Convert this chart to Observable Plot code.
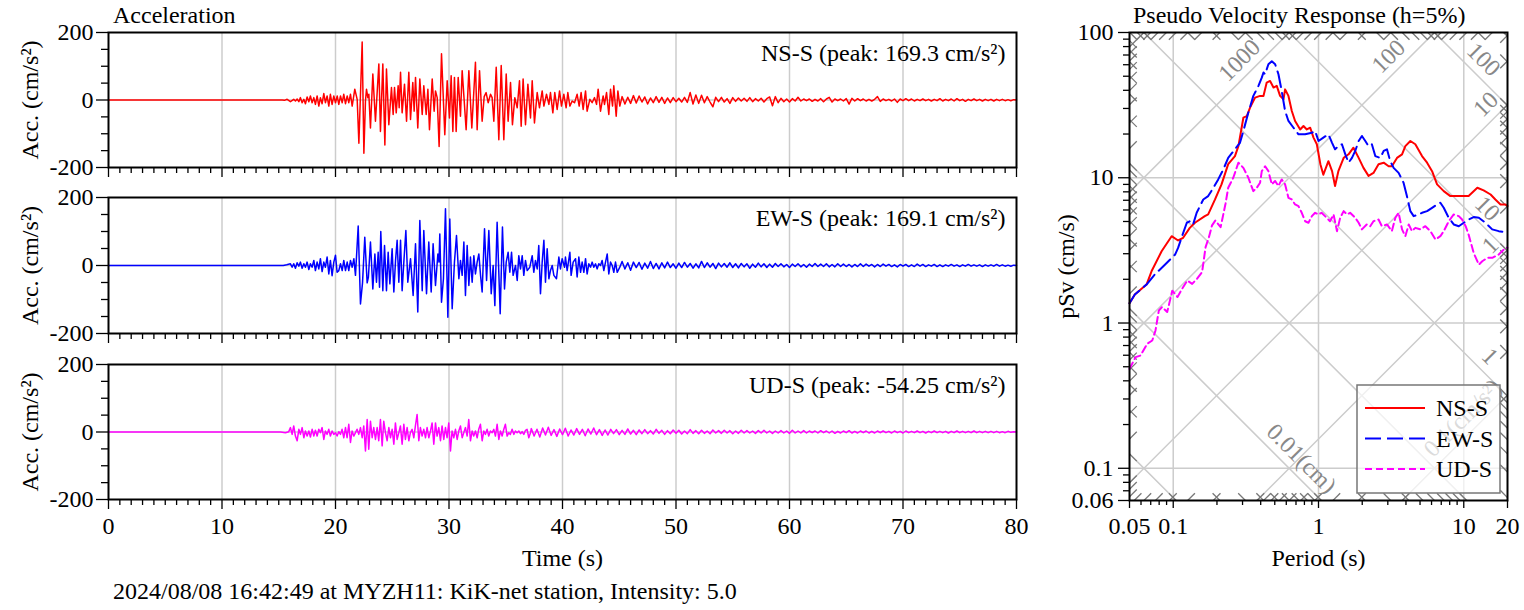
<!DOCTYPE html>
<html><head><meta charset="utf-8">
<script src="https://cdn.jsdelivr.net/npm/d3@7"></script>
<script src="https://cdn.jsdelivr.net/npm/@observablehq/plot@0.6"></script>
<style>
body{margin:0;background:#fff;}
#chart{position:relative;width:1524px;height:610px;background:#fff;}
#chart svg{position:absolute;}
</style></head><body><div id="chart"></div>
<script>
// ---------------- DATA ----------------
const accTitle = "Acceleration";
const specTitle = "Pseudo Velocity Response (h=5%)";
const caption = "2024/08/08 16:42:49 at MYZH11: KiK-net station, Intensity: 5.0";
const seriesNames = ["NS-S", "EW-S", "UD-S"];
const peakLabels = ["NS-S (peak: 169.3 cm/s²)", "EW-S (peak: 169.1 cm/s²)", "UD-S (peak: -54.25 cm/s²)"];
const timeTicks = [0, 10, 20, 30, 40, 50, 60, 70, 80];
const timeGrid = [10, 20, 30, 40, 50, 60, 70];
const timeMinor = [1,2,3,4,5,6,7,8,9,11,12,13,14,15,16,17,18,19,21,22,23,24,25,26,27,28,29,31,32,33,34,35,36,37,38,39,41,42,43,44,45,46,47,48,49,51,52,53,54,55,56,57,58,59,61,62,63,64,65,66,67,68,69,71,72,73,74,75,76,77,78,79];
const accTicks = [-200, 0, 200];
const accMinor = [-150, -100, -50, 50, 100, 150];
const periodLabelTicks = [0.05, 0.1, 1, 10, 20];
const periodMinorTicks = [0.06,0.07,0.08,0.09,0.2,0.3,0.4,0.5,0.6,0.7,0.8,0.9,2,3,4,5,6,7,8,9];
const periodGrid = [0.1, 1, 10];
const svLabelTicks = [0.06, 0.1, 1, 10, 100];
const svMinorTicks = [0.07,0.08,0.09,0.2,0.3,0.4,0.5,0.6,0.7,0.8,0.9,2,3,4,5,6,7,8,9,20,30,40,50,60,70,80,90];
const svGrid = [0.1, 1, 10];
const dispLevels = [0.001, 0.01, 0.1, 1, 10, 100, 1000];      // cm
const accLevels = [0.1, 1, 10, 100, 1000, 10000];              // cm/s²
const minorMult = [1,2,3,4,5,6,7,8,9];
const accLabelText = ["1000", "100", "10", "1", "0.1(cm/s²)"];
const accLabelValue = [1000, 100, 10, 1, 0.1];
const accLabelPeriod = [0.34, 3.61, 16.9, 18.1, 11.7];
const dispLabelText = ["100", "10", "1", "0.01(cm)"];
const dispLabelValue = [100, 10, 1, 0.01];
const dispLabelPeriod = [11.5, 12.2, 12.7, 0.642];

// acceleration time histories [time s, acc cm/s²]
const nsMain = [[0,0],[15.3,0],[15.5,-1],[15.74,2],[16.03,-5],[16.32,2],[16.47,-3],[16.62,3],[16.77,-5],[16.91,7],[17.06,-8],[17.21,2],[17.35,-11],[17.5,9],[17.65,-5],[17.79,12],[17.94,-8],[18.09,7],[18.23,-13],[18.38,12],[18.53,-18],[18.67,7],[18.82,-11],[18.97,19],[19.11,-8],[19.26,12],[19.41,-18],[19.55,17],[19.7,-13],[19.85,12],[20.0,-8],[20.15,12],[20.29,-13],[20.44,12],[20.59,-8],[20.73,17],[20.88,-11],[21.03,12],[21.17,-8],[21.32,17],[21.47,-18],[21.7,32],[21.91,2],[22.06,-128],[22.35,172],[22.5,-158],[22.64,-3],[22.73,32],[22.85,7],[22.94,17],[23.08,-83],[23.29,77],[23.52,-63],[23.82,107],[23.96,-93],[24.17,107],[24.35,-133],[24.49,92],[24.7,-73],[24.93,37],[25.08,-43],[25.2,37],[25.35,-38],[25.52,42],[25.61,-23],[25.73,82],[25.87,-38],[26.08,47],[26.26,-63],[26.46,82],[26.61,-58],[26.81,52],[26.93,-33],[27.05,67],[27.25,-83],[27.43,62],[27.64,-43],[27.78,42],[27.99,-43],[28.14,32],[28.28,-88],[28.52,62],[28.69,-33],[28.81,27],[28.96,7],[29.13,-138],[29.34,137],[29.63,-103],[29.84,57],[30.04,-53],[30.19,72],[30.34,-93],[30.48,67],[30.63,-93],[30.81,67],[31.01,-48],[31.16,87],[31.51,-88],[31.75,87],[32.01,-83],[32.33,112],[32.48,-88],[32.69,87],[32.92,-63],[33.1,10],[33.27,22],[33.45,-8],[33.66,17],[33.8,7],[33.95,-63],[34.16,97],[34.39,-118],[34.6,102],[34.83,-118],[35.04,77],[35.21,-63],[35.42,52],[35.59,-73],[35.8,7],[36.01,-23],[36.21,57],[36.36,-78],[36.53,62],[36.74,-73],[36.95,47],[37.18,-53],[37.33,57],[37.53,-68],[37.77,22],[37.97,-23],[38.21,27],[38.36,-18],[38.59,17],[38.8,-13],[38.94,22],[39.15,-38],[39.32,22],[39.53,-28],[39.74,27],[39.91,-18],[40.12,17],[40.32,-23],[40.47,22],[40.65,-18],[40.85,-3],[41.06,-8],[41.29,17],[41.47,-18],[41.64,22],[41.82,-28],[42.03,27],[42.17,-33],[42.41,2],[42.61,-8],[42.82,7],[43.0,-13],[43.14,32],[43.35,-33],[43.58,12],[43.7,-13],[43.88,22],[44.08,-43],[44.23,32],[44.41,-18],[44.52,42],[44.73,-48],[44.88,27],[45.05,-18]];
const nsTailStart = 45.25, tailStep = 0.25;
const nsTail = [10,-12,8,-10,13,-9,12,-6,9,-12,6,-8,10,-7,8,-10,6,-8,7,-5,
 5,-6,8,-7,22,-12,15,-10,14,-8,10,-6,-20,8,-5,8,-6,4,-10,7,
 -4,6,-3,5,-4,7,-5,4,-3,5,-6,4,9,-17,10,-8,5,-5,3,-6,
 4,-3,8,-3,3,-2,3,-4,2,-3,4,-5,3,8,-6,3,-2,3,-3,4,
 -12,5,-3,4,-2,3,-3,2,-3,2,10,-4,3,-2,2,-3,3,-7,3,-2,
 4,-2,3,-3,2,-2,3,-2,2,-3,2,-2,4,-3,2,-2,3,-3,4,-2,
 2,-4,2,-2,3,-2,2,-3,2,-2,2,-3,2,-2,2,-2,1,-2,1,0];

const ewMain = [[0,0],[15.4,0],[15.7,2],[16.03,5],[16.18,-5],[16.32,5],[16.47,-8],[16.62,8],[16.77,-2],[16.91,10],[17.06,-8],[17.21,5],[17.35,-5],[17.5,10],[17.65,-12],[17.79,5],[17.94,-5],[18.09,15],[18.23,-15],[18.38,10],[18.53,-10],[18.67,20],[18.82,-18],[18.97,10],[19.11,-5],[19.26,25],[19.41,-25],[19.55,15],[19.7,-30],[19.85,10],[20.0,30],[20.14,-20],[20.29,-15],[20.44,5],[20.59,-15],[20.73,15],[20.88,-15],[21.03,10],[21.17,-15],[21.32,15],[21.47,-5],[21.62,20],[21.76,-29],[22.0,116],[22.2,-113],[22.38,-51],[22.58,83],[22.79,-51],[22.9,-34],[23.08,69],[23.29,-69],[23.47,34],[23.61,-49],[23.76,39],[23.88,-64],[23.99,100],[24.17,-74],[24.32,59],[24.49,-74],[24.64,39],[24.79,-54],[24.99,49],[25.14,-78],[25.29,15],[25.43,74],[25.58,-49],[25.73,74],[25.87,-74],[26.02,10],[26.2,103],[26.37,-49],[26.61,20],[26.84,-88],[27.05,64],[27.25,-137],[27.43,132],[27.64,-74],[27.78,103],[28.02,-83],[28.22,69],[28.43,-78],[28.6,64],[28.81,-59],[29.02,34],[29.12,10],[29.19,93],[29.34,-108],[29.51,-39],[29.69,167],[29.9,-152],[30.07,137],[30.28,-127],[30.48,10],[30.66,88],[30.87,-39],[31.01,15],[31.16,-29],[31.31,69],[31.45,-88],[31.6,59],[31.75,-59],[31.89,25],[32.04,-49],[32.19,29],[32.33,-25],[32.48,10],[32.63,34],[32.78,-29],[32.92,-78],[33.13,108],[33.31,-44],[33.51,103],[33.72,-83],[33.89,0],[34.04,-118],[34.24,127],[34.51,-142],[34.71,113],[34.89,-69],[35.04,10],[35.21,39],[35.36,-20],[35.51,39],[35.65,-29],[35.86,0],[36.01,-44],[36.15,29],[36.3,-10],[36.45,29],[36.59,-29],[36.74,15],[36.89,-15],[37.12,-5],[37.33,29],[37.47,-20],[37.62,15],[37.77,-10],[37.91,59],[38.06,-83],[38.21,10],[38.36,74],[38.5,-49],[38.65,49],[38.8,-39],[38.94,-15],[39.09,0],[39.24,-29],[39.47,-39],[39.68,25],[39.82,-10],[39.97,20],[40.18,-5],[40.26,25],[40.41,-15],[40.65,39],[40.76,-29],[40.94,10],[41.15,20],[41.29,-34],[41.44,25],[41.59,-20],[41.73,10],[41.88,-20],[42.03,20],[42.17,-25],[42.32,5],[42.47,-5],[42.61,10],[42.76,-5],[42.91,5],[43.05,-10],[43.2,5],[43.35,0],[43.49,15],[43.64,-15],[43.79,10],[43.94,34],[44.08,-25],[44.23,10],[44.38,0],[44.52,-20],[44.67,10],[44.82,-20],[45.05,-5]];
const ewTailStart = 45.25;
const ewTail = [12,-10,8,-14,10,-6,9,-11,7,-8,12,-9,6,-10,8,-7,10,-6,5,-8,
 7,-6,9,-5,6,-8,5,-7,12,-6,8,-5,6,-9,7,-4,6,-5,8,-6,
 5,-7,6,-4,5,-8,4,-5,7,-4,5,-6,4,-5,6,-3,5,-4,3,-6,
 4,-3,5,-4,3,-5,4,-3,6,-3,4,-3,5,-4,3,-4,5,-3,4,-3,
 3,-4,3,-3,5,-3,4,-2,3,-4,3,-3,4,-2,3,-3,2,-4,3,-2,
 3,-3,2,-3,4,-2,3,-3,2,-2,3,-3,2,-3,2,-2,3,-2,2,-3,
 2,-2,3,-2,2,-2,2,-3,2,-2,2,-2,3,-2,2,-2,1,-2,1,0];

const udMain = [[0,0],[15.15,0],[15.59,-2],[15.88,1],[16.03,13],[16.18,-7],[16.32,18],[16.47,-12],[16.62,-26],[16.77,8],[16.91,-7],[17.06,13],[17.21,-17],[17.35,3],[17.5,-12],[17.65,3],[17.79,-15],[17.94,8],[18.09,-12],[18.23,5],[18.38,-12],[18.53,8],[18.67,-2],[18.82,13],[18.97,-22],[19.11,3],[19.26,-7],[19.41,8],[19.55,-12],[19.7,3],[19.85,-7],[20.0,-2],[20.14,-12],[20.29,1],[20.44,-7],[20.58,8],[20.73,-17],[20.88,13],[21.02,-17],[21.17,23],[21.32,-31],[21.46,3],[21.61,-12],[21.76,-2],[21.9,8],[22.05,-7],[22.2,13],[22.35,-17],[22.49,18],[22.64,-56],[22.79,37],[22.93,-51],[23.08,32],[23.23,-17],[23.37,13],[23.52,-22],[23.67,13],[23.81,-26],[23.96,37],[24.11,-41],[24.25,32],[24.4,-2],[24.55,-26],[24.7,13],[24.84,-17],[24.99,8],[25.14,-36],[25.28,27],[25.43,-22],[25.58,-2],[25.72,18],[25.87,-36],[26.02,23],[26.16,-22],[26.31,13],[26.46,-26],[26.6,-2],[26.75,8],[26.9,-17],[27.04,18],[27.19,52],[27.34,-26],[27.48,13],[27.63,-12],[27.78,8],[27.93,-17],[28.07,13],[28.22,-17],[28.37,3],[28.51,27],[28.66,-36],[28.81,27],[28.95,-12],[29.1,13],[29.25,-26],[29.39,18],[29.54,-22],[29.69,13],[29.83,-17],[29.98,27],[30.13,-56],[30.27,3],[30.42,-17],[30.57,8],[30.72,-22],[30.86,3],[31.01,18],[31.16,-17],[31.3,-2],[31.45,13],[31.6,-12],[31.74,37],[31.89,-26],[32.04,3],[32.18,-12],[32.33,3],[32.48,-17],[32.62,8],[32.77,23],[32.92,-26],[33.07,3],[33.21,-7],[33.36,8],[33.5,-12],[33.65,3],[33.8,-2],[33.95,8],[34.09,-12],[34.24,23],[34.39,-22],[34.53,3],[34.68,-12],[34.83,8],[34.97,23],[35.12,-12],[35.27,-2],[35.41,-7],[35.56,8],[35.71,-7],[35.85,3],[36.0,-2],[36.15,3],[36.3,-5],[36.44,1],[36.59,-7],[36.74,5],[36.88,8],[37.03,-17],[37.18,-2]];
const udTailStart = 37.25;
const udTail = [10,-12,8,-15,12,-9,14,-10,7,-13,9,-8,11,-12,6,-9,10,-7,8,-11,
 9,-6,12,-8,7,-10,6,-9,8,-5,7,-8,5,-7,9,-6,5,-8,6,-5,
 7,-5,4,-6,8,-4,5,-7,4,-5,6,-4,5,-6,3,-5,7,-4,4,-5,
 5,-4,3,-5,6,-3,4,-4,5,-3,4,-5,3,-4,5,-3,4,-3,3,-4,
 4,-3,5,-3,3,-4,3,-3,4,-3,3,-4,5,-3,3,-3,4,-3,3,-2,
 3,-3,4,-2,3,-3,3,-4,2,-3,3,-2,4,-3,2,-3,3,-2,3,-3,
 2,-3,3,-2,3,-2,2,-3,3,-2,2,-3,3,-2,2,-2,3,-2,2,-3,
 2,-2,3,-2,2,-2,2,-3,2,-2,3,-2,2,-2,2,-2,3,-2,2,-2,
 2,-2,2,-2,2,-2,1,-2,2,-1,1,0];

// pseudo velocity response spectra: period (s), pSv (cm/s)
const nsPeriod = [0.05,0.0544,0.0655,0.0709,0.0832,0.0975,0.108,0.117,0.130,0.141,0.165,0.174,0.194,0.215,0.239,0.266,0.281,0.304,0.321,0.338,0.366,0.396,0.418,0.440,0.464,0.490,0.516,0.544,0.574,0.589,0.621,0.655,0.690,0.748,0.788,0.831,0.877,0.924,0.974,1.03,1.08,1.17,1.24,1.30,1.37,1.49,1.61,1.74,1.89,2.04,2.21,2.39,2.59,2.81,3.04,3.20,3.47,3.76,3.96,4.29,4.64,5.16,5.59,6.05,6.55,7.28,8.09,9.24,10.8,12.4,13.7,15.3,16.5,17.9,19.4,20];
const nsSv = [1.37,1.57,1.84,2.27,3.12,3.96,3.70,3.86,4.52,4.90,5.44,5.59,7.09,9.0,12.4,14.1,16.5,25.9,26.6,30.4,35.6,36.6,36.6,45.2,46.4,41.8,42.9,36.6,34.7,40.6,36.6,28.8,24.6,21.5,22.7,21.5,22.1,18.9,17.0,12.4,10.5,13.0,11.1,8.77,11.1,13.7,14.5,16.1,13.7,11.7,10.3,10.8,12.4,12.7,12.0,12.0,13.7,14.5,16.5,17.9,17.0,14.1,12.7,11.1,9.0,8.09,7.48,7.48,7.48,8.53,8.18,7.67,7.09,6.55,6.55,6.38];
const ewPeriod = [0.05,0.0544,0.0655,0.0747,0.0876,0.103,0.108,0.114,0.124,0.130,0.137,0.145,0.161,0.174,0.189,0.204,0.221,0.239,0.266,0.288,0.304,0.329,0.356,0.386,0.407,0.418,0.429,0.452,0.477,0.503,0.530,0.558,0.589,0.621,0.673,0.728,0.809,0.900,0.948,1.0,1.08,1.17,1.24,1.30,1.37,1.45,1.53,1.61,1.70,1.79,1.89,1.99,2.10,2.21,2.33,2.46,2.66,2.81,2.96,3.12,3.29,3.56,3.85,4.06,4.29,4.52,4.89,5.16,5.59,6.05,6.55,6.90,7.28,7.88,8.53,9.24,10.0,10.8,11.7,12.7,14.1,15.7,17.4,19.4,20];
const ewSv = [1.37,1.57,1.84,2.16,2.52,2.96,3.29,3.86,4.90,5.02,4.77,5.74,7.09,7.48,8.53,9.74,11.4,13.7,15.7,17.4,21.0,28.1,36.6,42.9,48.9,53.0,51.6,60.5,63.4,60.5,51.6,39.6,28.8,24.6,22.1,19.9,19.9,20.4,21.0,17.9,18.9,19.9,17.4,15.7,16.5,17.0,14.5,12.7,13.7,15.3,17.9,19.4,17.9,16.5,17.0,14.1,13.7,15.3,15.7,13.0,11.7,10.8,9.24,7.48,5.89,5.44,5.59,5.74,5.89,6.21,6.55,6.73,6.21,5.30,4.77,4.64,4.90,5.16,5.36,5.30,4.90,4.41,4.29,4.22,4.17];
const udPeriod = [0.05,0.0551,0.0596,0.0662,0.0717,0.0755,0.0796,0.0839,0.0909,0.0985,0.107,0.115,0.125,0.135,0.146,0.158,0.167,0.176,0.185,0.195,0.212,0.229,0.239,0.259,0.281,0.304,0.329,0.356,0.376,0.396,0.407,0.429,0.452,0.477,0.503,0.530,0.558,0.589,0.621,0.655,0.690,0.728,0.767,0.809,0.853,0.900,0.948,1.0,1.05,1.14,1.20,1.27,1.34,1.41,1.49,1.57,1.65,1.79,1.89,1.99,2.15,2.27,2.39,2.59,2.73,2.96,3.20,3.38,3.56,3.76,3.96,4.18,4.40,4.64,5.02,5.44,5.89,6.38,6.90,7.28,7.88,8.53,9.24,9.74,10.3,10.8,11.7,12.7,13.4,14.5,15.7,17.4,19.4,20];
const udSv = [0.484,0.582,0.598,0.720,0.758,0.889,1.22,1.29,1.19,1.67,1.51,1.72,1.96,1.86,2.02,2.24,3.33,3.90,4.70,5.08,4.57,6.62,8.53,10.0,12.7,11.7,10.0,8.09,8.53,9.24,11.1,12.0,11.1,9.0,9.49,8.77,9.74,9.0,7.28,7.09,6.55,6.38,5.74,5.02,4.90,5.44,5.74,5.59,5.74,5.30,5.02,5.59,4.29,5.30,5.89,5.59,5.74,5.30,4.90,4.41,4.77,4.64,5.02,5.16,4.64,4.77,4.29,5.30,5.74,4.41,3.96,4.77,4.29,4.52,4.41,4.64,4.29,3.76,3.96,4.29,5.02,5.59,5.44,5.16,4.64,4.06,3.04,2.52,2.66,2.81,2.81,2.96,3.29,3.30];

// ---------------- STYLE ----------------
const FONT = '"Liberation Serif","Times New Roman",serif';
const colors = ["red", "blue", "magenta"];
const dashes = [null, "16,6", "7,4"];
const GRID = "#cccccc";

// ---------------- BUILD ----------------
const chart = document.getElementById("chart");
const withTail = (main, start, tail) => main.concat(tail.map((v, i) => [start + i * tailStep, v]));
const traces = [
  withTail(nsMain, nsTailStart, nsTail),
  withTail(ewMain, ewTailStart, ewTail),
  withTail(udMain, udTailStart, udTail)
];
const panelTops = [22, 187, 354];
const panelInner = [135, 136, 135];

traces.forEach((data, i) => {
  const last = i === 2;
  const mb = last ? 70 : 15;
  const p = Plot.plot({
    width: 1030, height: 10 + panelInner[i] + mb,
    marginLeft: 108, marginRight: 14, marginTop: 10, marginBottom: mb,
    style: {fontFamily: FONT, fontSize: "24px", background: "transparent", color: "black", overflow: "visible"},
    x: {domain: [0, 80]},
    y: {domain: [-200, 200]},
    marks: [
      Plot.gridX(timeGrid, {stroke: GRID, strokeOpacity: 1, strokeWidth: 1.5}),
      Plot.gridY([0], {stroke: GRID, strokeOpacity: 1, strokeWidth: 1.5}),
      Plot.line(data, {x: d => d[0], y: d => d[1], stroke: colors[i], strokeWidth: 1.5}),
      Plot.axisY(accTicks, {tickSize: 12, tickPadding: 3, strokeWidth: 1.3, tickFormat: d => String(d),
        label: "Acc. (cm/s²)", labelAnchor: "center", labelOffset: 88, labelArrow: false}),
      Plot.axisY(accMinor, {tickSize: 7, strokeWidth: 1.3, tickFormat: () => "", label: null}),
      Plot.axisX(timeTicks, {tickSize: 10, tickPadding: 7, strokeWidth: 1.3,
        tickFormat: last ? (d => String(d)) : (() => ""),
        label: last ? "Time (s)" : null, labelAnchor: "center", labelOffset: 66, labelArrow: false}),
      Plot.axisX(timeMinor, {tickSize: 6, strokeWidth: 1.3, tickFormat: () => "", label: null}),
      Plot.frame({stroke: "black", strokeWidth: 2}),
      Plot.text([peakLabels[i]], {frameAnchor: "top-right", dx: -11, dy: 11, textAnchor: "end", lineAnchor: "top", fontSize: 24, fill: "black"})
    ]
  });
  p.style.left = "0px";
  p.style.top = panelTops[i] + "px";
  chart.appendChild(p);
});

// spectra
const TWO_PI = 2 * Math.PI;
const Tmin = 0.05, Tmax = 20, Smin = 0.06, Smax = 100;
const diag = [];
dispLevels.forEach(d => [0.01, 100].forEach(T => diag.push({id: "d" + d, T, Sv: TWO_PI * d / T})));
accLevels.forEach(a => [0.01, 100].forEach(T => diag.push({id: "a" + a, T, Sv: a * T / TWO_PI})));

const f = Math.pow(10, 0.05);
const inS = s => s >= Smin * 0.999 && s <= Smax * 1.001;
const inT = t => t >= Tmin * 0.999 && t <= Tmax * 1.001;
const segs = [];
dispLevels.forEach(dec => minorMult.forEach(m => {
  const sd = dec * m;
  let sv = TWO_PI * sd / Tmin; if (inS(sv)) segs.push([Tmin, sv, Tmin * f, sv / f]);
  sv = TWO_PI * sd / Tmax; if (inS(sv)) segs.push([Tmax, sv, Tmax / f, sv * f]);
  let t = TWO_PI * sd / Smax; if (inT(t)) segs.push([t, Smax, t * f, Smax / f]);
  t = TWO_PI * sd / Smin; if (inT(t)) segs.push([t, Smin, t / f, Smin * f]);
}));
accLevels.forEach(dec => minorMult.forEach(m => {
  const sa = dec * m;
  let sv = sa * Tmin / TWO_PI; if (inS(sv)) segs.push([Tmin, sv, Tmin * f, sv * f]);
  sv = sa * Tmax / TWO_PI; if (inS(sv)) segs.push([Tmax, sv, Tmax / f, sv / f]);
  let t = TWO_PI * Smax / sa; if (inT(t)) segs.push([t, Smax, t / f, Smax / f]);
  t = TWO_PI * Smin / sa; if (inT(t)) segs.push([t, Smin, t * f, Smin * f]);
}));

const accLabels = accLabelText.map((text, i) => ({text, T: accLabelPeriod[i], Sv: accLabelValue[i] * accLabelPeriod[i] / TWO_PI}));
const dispLabels = dispLabelText.map((text, i) => ({text, T: dispLabelPeriod[i], Sv: TWO_PI * dispLabelValue[i] / dispLabelPeriod[i]}));

const specs = [[nsPeriod, nsSv], [ewPeriod, ewSv], [udPeriod, udSv]].map(([P, S]) => P.map((T, j) => ({T, Sv: S[j]})));

const sp = Plot.plot({
  width: 524, height: 610,
  marginLeft: 129, marginRight: 17, marginTop: 32, marginBottom: 110,
  style: {fontFamily: FONT, fontSize: "24px", background: "transparent", color: "black", overflow: "visible"},
  x: {type: "log", domain: [Tmin, Tmax]},
  y: {type: "log", domain: [Smin, Smax]},
  marks: [
    Plot.ruleX(periodGrid, {stroke: GRID, strokeWidth: 1.5}),
    Plot.ruleY(svGrid, {stroke: GRID, strokeWidth: 1.5}),
    Plot.line(diag, {x: "T", y: "Sv", z: "id", stroke: GRID, strokeWidth: 1.5, clip: true}),
    Plot.link(segs, {x1: d => d[0], y1: d => d[1], x2: d => d[2], y2: d => d[3], stroke: "#777", strokeWidth: 1.3, clip: true}),
    Plot.text(accLabels, {x: "T", y: "Sv", text: "text", rotate: -45, dx: -11, dy: -11, fill: "#888", fontSize: 24}),
    Plot.text(dispLabels, {x: "T", y: "Sv", text: "text", rotate: 45, dx: 11, dy: -11, fill: "#888", fontSize: 24}),
    ...specs.map((s, i) => Plot.line(s, {x: "T", y: "Sv", stroke: colors[i], strokeWidth: 2, strokeDasharray: dashes[i] ?? undefined})),
    // tick marks from the axes; labels as text marks (log tickFormat would blank 0.05, 20, 0.06)
    Plot.axisX(periodLabelTicks, {tickSize: 8, strokeWidth: 1.3, tickFormat: () => "",
      label: "Period (s)", labelAnchor: "center", labelOffset: 65, labelArrow: false}),
    Plot.axisX(periodMinorTicks, {tickSize: 5, strokeWidth: 1.3, tickFormat: () => "", label: null}),
    Plot.text(periodLabelTicks, {x: d => d, text: d => String(d), frameAnchor: "bottom", dy: 16, lineAnchor: "top", fontSize: 24, fill: "black"}),
    Plot.axisY(svLabelTicks, {tickSize: 11, strokeWidth: 1.3, tickFormat: () => "",
      label: "pSv (cm/s)", labelAnchor: "center", labelOffset: 73, labelArrow: false}),
    Plot.axisY(svMinorTicks, {tickSize: 6, strokeWidth: 1.3, tickFormat: () => "", label: null}),
    Plot.text(svLabelTicks, {y: d => d, text: d => String(d), frameAnchor: "left", dx: -16, textAnchor: "end", lineAnchor: "middle", fontSize: 24, fill: "black"}),
    Plot.frame({stroke: "black", strokeWidth: 2})
  ]
});
sp.style.left = "1000px";
sp.style.top = "0px";
chart.appendChild(sp);

// overlay: titles, caption, legend
const ov = d3.select(chart).append("svg")
  .attr("width", 1524).attr("height", 610)
  .style("left", "0px").style("top", "0px").style("pointer-events", "none")
  .style("font-family", FONT).style("font-size", "24px");
ov.append("text").attr("x", 113).attr("y", 23).text(accTitle);
ov.append("text").attr("x", 1133).attr("y", 23).text(specTitle);
ov.append("text").attr("x", 113).attr("y", 599).text(caption);
const lg = ov.append("g");
lg.append("rect").attr("x", 1357).attr("y", 385).attr("width", 143).attr("height", 108)
  .attr("fill", "white").attr("fill-opacity", 0.7).attr("stroke", "#777").attr("stroke-width", 1.5);
seriesNames.forEach((name, i) => {
  const y = 408 + i * 30.5;
  const ln = lg.append("line").attr("x1", 1365).attr("x2", 1425).attr("y1", y).attr("y2", y)
    .attr("stroke", colors[i]).attr("stroke-width", 2);
  if (dashes[i]) ln.attr("stroke-dasharray", dashes[i]);
  lg.append("text").attr("x", 1436).attr("y", y + 8).text(name);
});
</script></body></html>
